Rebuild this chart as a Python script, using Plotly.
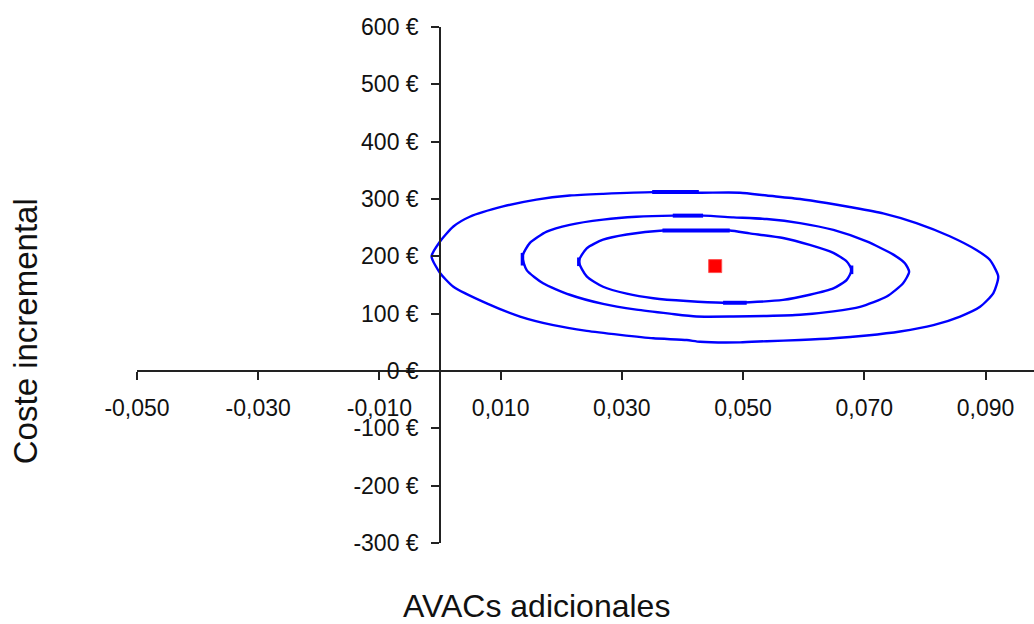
import plotly.graph_objects as go

# ---- data ----
outer_x = [-0.0014, 0.0000, 0.0022, 0.0049, 0.0104, 0.0159, 0.0214, 0.0269, 0.0352, 0.0429, 0.0495,
           0.0539, 0.0594, 0.0638, 0.0676, 0.0731, 0.0786, 0.0841, 0.0885, 0.0907, 0.0921, 0.0913,
           0.0891, 0.0858, 0.0814, 0.0759, 0.0704, 0.0649, 0.0594, 0.0539, 0.0495, 0.0429, 0.0407,
           0.0352, 0.0297, 0.0242, 0.0187, 0.0132, 0.0077, 0.0022, 0.0000, -0.0014]
outer_y = [200, 226, 252, 269, 287, 299, 306, 309, 312, 311, 311,
           306, 300, 293, 286, 275, 258, 235, 211, 194, 165, 136,
           112, 95, 80, 69, 62, 57, 54, 52, 50, 51, 54,
           57, 63, 70, 80, 95, 118, 147, 171, 200]

middle_x = [0.0136, 0.0148, 0.0176, 0.0214, 0.0269, 0.0324, 0.0385, 0.0434, 0.0484, 0.0539, 0.0594,
            0.0649, 0.0704, 0.0748, 0.0767, 0.0774, 0.0764, 0.0737, 0.0693, 0.0649, 0.0594, 0.0539,
            0.0484, 0.0423, 0.0379, 0.0324, 0.0269, 0.0214, 0.0170, 0.0143, 0.0136]
middle_y = [200, 223, 243, 255, 264, 269, 271, 271, 268, 265, 258,
            246, 226, 203, 188, 173, 153, 130, 112, 104, 98, 96,
            95, 95, 100, 107, 117, 133, 153, 176, 200]

inner_x = [0.0229, 0.0242, 0.0269, 0.0308, 0.0368, 0.0429, 0.0478, 0.0511, 0.0566, 0.0610, 0.0649,
           0.0671, 0.0679, 0.0671, 0.0649, 0.0610, 0.0566, 0.0511, 0.0467, 0.0407, 0.0352, 0.0308,
           0.0269, 0.0242, 0.0229]
inner_y = [191, 214, 229, 238, 245, 245, 245, 240, 232, 220, 206,
           191, 176, 159, 144, 133, 124, 120, 119, 122, 127, 135,
           147, 165, 191]

# short overdrawn (thicker) pieces of the contours
thick_h_x0 = [0.0350, 0.0384, 0.0367, 0.0467]
thick_h_x1 = [0.0427, 0.0434, 0.0478, 0.0506]
thick_h_y = [312, 271, 245, 119]
thick_v_x = [0.0229, 0.0136, 0.0679]
thick_v_y0 = [183, 184, 169]
thick_v_y1 = [198, 206, 184]

point_x = [0.0454]
point_y = [183]

x_tickvals = [-0.05, -0.03, -0.01, 0.01, 0.03, 0.05, 0.07, 0.09]
x_ticktext = ["-0,050", "-0,030", "-0,010", "0,010", "0,030", "0,050", "0,070", "0,090"]
y_tickvals = [-300, -200, -100, 0, 100, 200, 300, 400, 500, 600]
y_ticktext = ["-300 €", "-200 €", "-100 €", "0 €", "100 €", "200 €", "300 €", "400 €", "500 €", "600 €"]

x_range = [-0.05, 0.098]
y_range = [-300, 600]

BLUE = "#0000ff"
FONT = "Liberation Sans, Arial, sans-serif"

fig = go.Figure()
for xs, ys in [(outer_x, outer_y), (middle_x, middle_y), (inner_x, inner_y)]:
    fig.add_trace(go.Scatter(x=xs, y=ys, mode="lines",
                             line=dict(color=BLUE, width=2.4, shape="spline", smoothing=0.6),
                             showlegend=False, hoverinfo="skip"))

hx, hy = [], []
for a, b, y in zip(thick_h_x0, thick_h_x1, thick_h_y):
    hx += [a, b, None]
    hy += [y, y, None]
fig.add_trace(go.Scatter(x=hx, y=hy, mode="lines", line=dict(color=BLUE, width=4),
                         showlegend=False, hoverinfo="skip"))
vx, vy = [], []
for x, a, b in zip(thick_v_x, thick_v_y0, thick_v_y1):
    vx += [x, x, None]
    vy += [a, b, None]
fig.add_trace(go.Scatter(x=vx, y=vy, mode="lines", line=dict(color=BLUE, width=3.5),
                         showlegend=False, hoverinfo="skip"))

fig.add_trace(go.Scatter(x=point_x, y=point_y, mode="markers",
                         marker=dict(symbol="square", size=13, color="#ff0000",
                                     line=dict(color="#ff5050", width=1)),
                         showlegend=False))

x_pos = (0 - x_range[0]) / (x_range[1] - x_range[0])
y_pos = (0 - y_range[0]) / (y_range[1] - y_range[0])

axis_common = dict(showgrid=False, zeroline=False, showline=True, linecolor="#222222",
                   linewidth=1.6, ticks="outside", ticklen=8, tickwidth=1.6, tickcolor="#222222",
                   tickfont=dict(family=FONT, size=23, color="#111111"), anchor="free")

fig.update_layout(
    width=1034, height=624,
    margin=dict(l=137, r=0, t=27, b=81),
    paper_bgcolor="white", plot_bgcolor="white",
    xaxis=dict(range=x_range, tickmode="array", tickvals=x_tickvals, ticktext=x_ticktext,
               position=y_pos, ticklabelstandoff=9, **axis_common),
    yaxis=dict(range=y_range, tickmode="array", tickvals=y_tickvals, ticktext=y_ticktext,
               position=x_pos, ticklabelstandoff=8, **axis_common),
    annotations=[
        dict(text="AVACs adicionales", xref="paper", yref="paper", x=0.445, y=-0.122,
             xanchor="center", yanchor="middle", showarrow=False,
             font=dict(family=FONT, size=32, color="#111111")),
        dict(text="Coste incremental", xref="paper", yref="paper", x=-0.124, y=0.41,
             xanchor="center", yanchor="middle", showarrow=False, textangle=-90,
             font=dict(family=FONT, size=33, color="#111111")),
    ],
)

fig.write_html("out.html")
